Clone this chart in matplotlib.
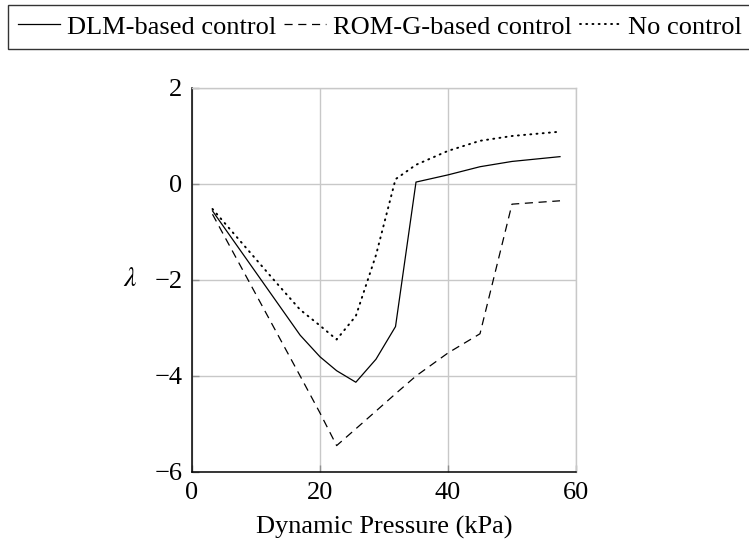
import numpy as np
import matplotlib
matplotlib.use("Agg")
import matplotlib.pyplot as plt

plt.rcParams['font.family'] = ['Liberation Serif', 'DejaVu Serif']
plt.rcParams['mathtext.fontset'] = 'stix'

# dynamic pressure (kPa)
q_dlm = [3.2, 16.9, 20, 22.6, 25.6, 28.75, 31.8, 35, 40, 45, 50, 57.5]
lam_dlm = [-0.56, -3.15, -3.6, -3.89, -4.13, -3.65, -2.97, 0.04, 0.19, 0.36, 0.47, 0.57]

q_rom = [3.2, 16.9, 20, 22.6, 25.6, 28.75, 31.8, 35, 40, 45, 50, 57.5]
lam_rom = [-0.63, -4.0, -4.77, -5.45, -5.1, -4.73, -4.37, -4.0, -3.52, -3.12, -0.42, -0.35]

q_none = [3.2, 12.8, 16.9, 20, 22.6, 25.6, 28.75, 31.8, 35, 40, 45, 50, 57.5]
lam_none = [-0.52, -2.0, -2.62, -2.95, -3.24, -2.75, -1.48, 0.1, 0.4, 0.69, 0.9, 1.0, 1.09]

W, H = 749, 544
fig = plt.figure(figsize=(W/100, H/100), dpi=100)
ax = fig.add_axes([192/W, (H-472)/H, 384/W, 384/H])

fs = 19
l1, = ax.plot(q_dlm, lam_dlm, color='black', lw=0.9, label='DLM-based control')
l2, = ax.plot(q_rom, lam_rom, color='black', lw=0.9, linestyle=(0, (6.5, 4.5)),
              label='ROM-G-based control')
l3, = ax.plot(q_none, lam_none, color='black', lw=1.4, linestyle=(0, (0.5, 2.7)),
              dash_capstyle='round', label='No control')

ax.set_xlim(0, 60)
ax.set_ylim(-6, 2)
ax.set_xticks([0, 20, 40, 60])
ax.set_yticks([-6, -4, -2, 0, 2])
ax.grid(True, color='#c8c8c8', lw=1.0)
ax.set_axisbelow(True)

for s in ['top', 'right']:
    ax.spines[s].set_color('#c8c8c8')
    ax.spines[s].set_linewidth(1.0)
for s in ['left', 'bottom']:
    ax.spines[s].set_color('black')
    ax.spines[s].set_linewidth(1.1)

ax.tick_params(direction='in', length=5, width=1.0, color='#909090',
               labelsize=fs, pad=7)

ax.set_xlabel('Dynamic Pressure (kPa)', fontsize=fs, labelpad=9)
ax.set_ylabel(r'$\lambda$', fontsize=fs + 1, rotation=0, ha='center', va='center')
ax.yaxis.set_label_coords(-0.16, 0.5)

leg = fig.legend(handles=[l1, l2, l3], loc='upper left', ncol=3,
                 bbox_to_anchor=(8/W, 1-5/H), borderaxespad=0,
                 fontsize=fs, frameon=True, fancybox=False,
                 handlelength=1.6, handletextpad=0.25, columnspacing=0.3,
                 borderpad=0.38)
leg.get_frame().set_edgecolor('black')
leg.get_frame().set_linewidth(1.0)

fig.savefig('out.png', dpi=100)
